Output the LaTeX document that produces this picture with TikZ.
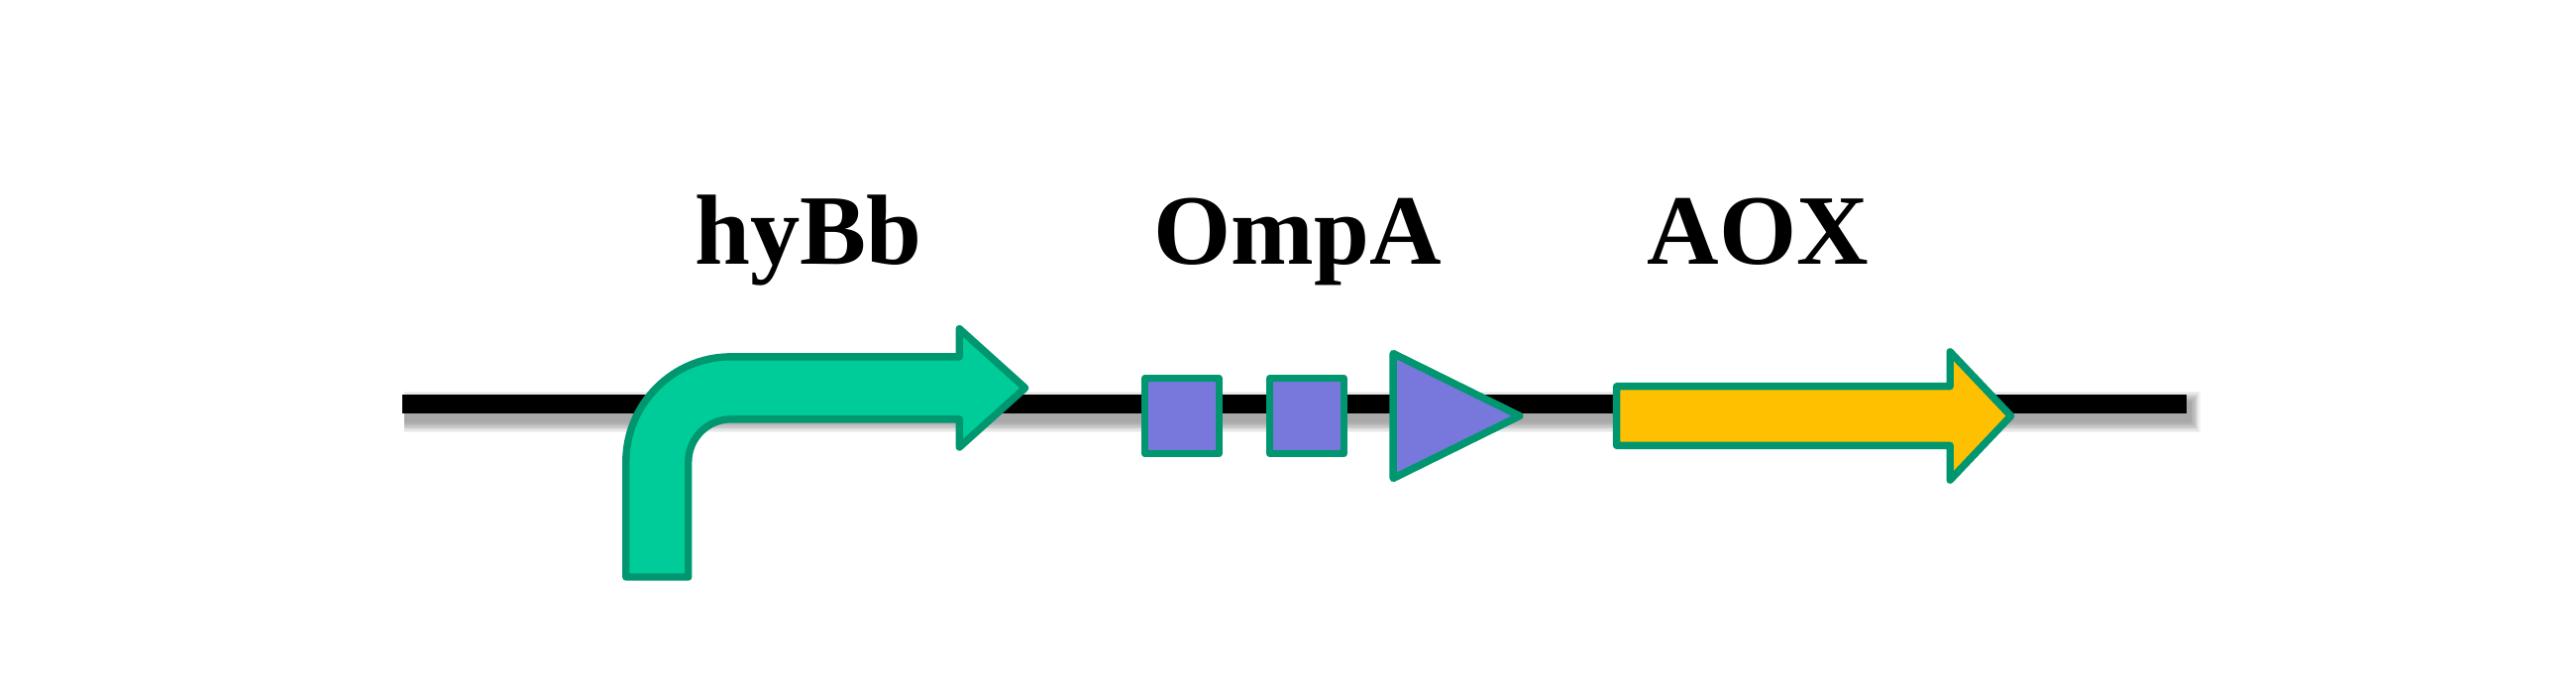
\documentclass[tikz,border=0pt]{standalone}
\usepackage{fontspec}
\setmainfont{Liberation Serif}
\definecolor{gfill}{HTML}{00CC99}
\definecolor{gline}{HTML}{009670}
\definecolor{pfill}{HTML}{7878DC}
\definecolor{yfill}{HTML}{FFC000}
\begin{document}
\begin{tikzpicture}[x=0.01658cm,y=0.01658cm,
  part/.style={draw=gline,line width=2.1pt,line join=round},
  lbl/.style={font=\fontsize{28.6}{30}\selectfont\bfseries,anchor=base,inner sep=0pt}]
\useasboundingbox (0,0) rectangle (1568,422);
% backbone with soft shadow
\coordinate (bbL) at (245,176.2);
\coordinate (bbR) at (1331,176.2);
\foreach \k in {1,...,8}{
  \pgfmathsetmacro\w{5.4+\k*0.8}
  \pgfmathsetmacro\e{0.012*\k}
  \draw[line width=\w pt,black,opacity=0.05,line cap=butt]
    ([xshift=0.02cm,yshift=-0.08cm]bbL) -- ([xshift={0.04cm+\e cm},yshift=-0.08cm]bbR);
}
\draw[line width=5.4pt,black] (bbL) -- (bbR);
% hook arrow (hyBb promoter)
\path[part,fill=gfill] (381,71) -- (381,141) arc[start angle=180,end angle=90,radius=64]
  -- (584,205) -- (584,222) -- (624,186) -- (584,150) -- (584,167) -- (445,167)
  arc[start angle=90,end angle=180,radius=26] -- (419,71) -- cycle;
% squares
\path[part,fill=pfill] (697,146) rectangle (742,192);
\path[part,fill=pfill] (773,146) rectangle (818,192);
% triangle
\path[part,fill=pfill] (848,207) -- (925,169) -- (848,131) -- cycle;
% AOX arrow
\path[part,fill=yfill] (984,151) -- (984,187) -- (1187,187) -- (1187,208) -- (1224,169)
  -- (1187,130) -- (1187,151) -- cycle;
% labels
\node[lbl] (hybb) at (492,261) {hyBb};
\node[lbl] (ompa) at (790,261) {OmpA};
\node[lbl] (aox) at (1070,261) {AOX};
\end{tikzpicture}
\end{document}
